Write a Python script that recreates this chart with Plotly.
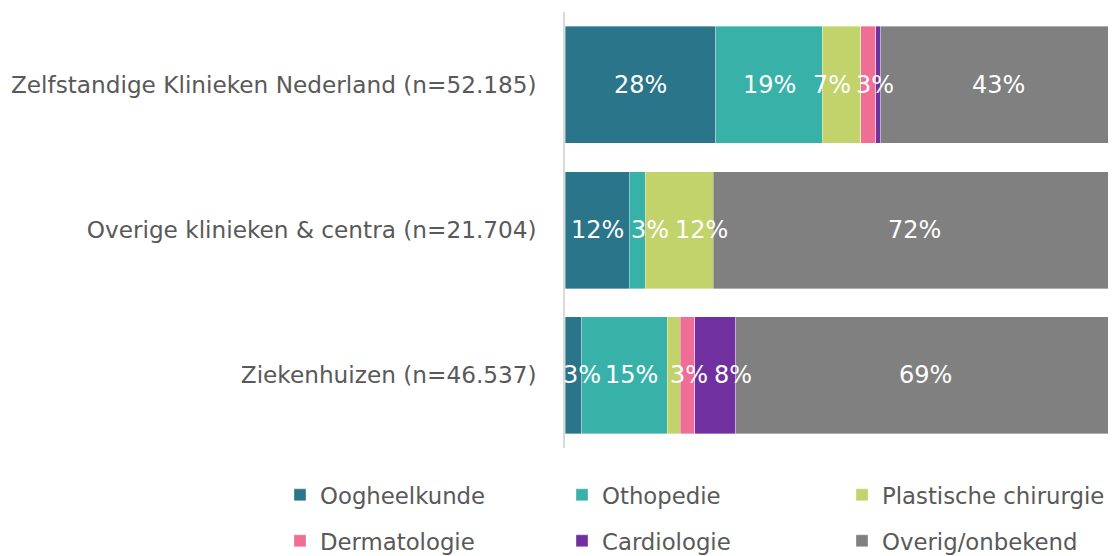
import plotly.graph_objects as go

categories = [
    "Zelfstandige Klinieken Nederland (n=52.185)",
    "Overige klinieken & centra (n=21.704)",
    "Ziekenhuizen (n=46.537)",
]
series_names = ["Oogheelkunde", "Othopedie", "Plastische chirurgie",
                "Dermatologie", "Cardiologie", "Overig/onbekend"]
series_colors = ["#2A7589", "#38B2A8", "#C3D36B", "#EE6E96", "#7030A0", "#808080"]

# values per series, in category order (percent)
oogheelkunde = [27.4, 11.7, 3.0]
othopedie = [19.3, 2.9, 15.6]
plastische = [7.0, 12.3, 2.3]
dermatologie = [2.7, 0.0, 2.65]
cardiologie = [0.9, 0.0, 7.4]
overig = [42.7, 73.1, 69.05]
series_values = [oogheelkunde, othopedie, plastische, dermatologie, cardiologie, overig]

# data labels as printed on the chart ("" = no label)
labels_oog = ["28%", "12%", "3%"]
labels_otho = ["19%", "3%", "15%"]
labels_plast = ["7%", "12%", ""]
labels_derm = ["3%", "", "3%"]
labels_card = ["", "", "8%"]
labels_overig = ["43%", "72%", "69%"]
series_labels = [labels_oog, labels_otho, labels_plast, labels_derm, labels_card, labels_overig]

# small horizontal nudges (px) the original applied to avoid label overlap
label_nudge = [
    [0, 0, 9],
    [0, 13, 7],
    [-10, 22, 0],
    [7, 0, 2],
    [0, 0, 18],
    [0, 0, 0],
]

FONT = "DejaVu Sans"
FS_CAT = 23.2
FS_LBL = 24
FS_LEG = 22.8

# page body has an 8px margin: figure is drawn at (8, 8) of the window,
# and the window shows it up to x=1108
W, H = 1100, 548
OFF = 8
PLOT_L, PLOT_T, PLOT_B = 565, 12, 448       # window px
FULL_R = 1116                                # where 100% sits in the window
VIS_R = OFF + W                              # visible right edge
x_max = 100 * (VIS_R - PLOT_L) / (FULL_R - PLOT_L)

# legend grid: 3 columns x 2 rows (window px)
legend_cols_px = [280, 562, 842]
legend_rows_px = [495, 541]

fig = go.Figure()
legend_layouts = {}
for j, (name, vals, col) in enumerate(zip(series_names, series_values, series_colors)):
    lname = "legend" if j == 0 else f"legend{j + 1}"
    fig.add_trace(go.Bar(
        y=categories, x=vals, name=name, orientation="h",
        marker=dict(color=col, line=dict(color="rgba(255,255,255,0.6)", width=0.6)),
        legend=lname,
        hoverinfo="skip",
    ))
    legend_layouts[lname] = dict(
        xref="container", yref="container",
        x=(legend_cols_px[j % 3] - OFF) / W, xanchor="left",
        y=1 - (legend_rows_px[j // 3] - OFF) / H, yanchor="middle",
        font=dict(family=FONT, size=FS_LEG, color="#595959"),
        bgcolor="rgba(0,0,0,0)", borderwidth=0,
    )

annotations = []
for i, cat in enumerate(categories):
    cum = 0.0
    for j in range(len(series_names)):
        v = series_values[j][i]
        lab = series_labels[j][i]
        if lab:
            annotations.append(dict(
                x=cum + v / 2, y=cat, xref="x", yref="y", text=lab,
                showarrow=False, xshift=label_nudge[j][i],
                font=dict(family=FONT, size=FS_LBL, color="white"),
            ))
        cum += v

fig.update_layout(
    barmode="stack",
    bargap=0.195,
    width=W, height=H,
    margin=dict(l=PLOT_L - OFF, r=0, t=PLOT_T - OFF, b=H - (PLOT_B - OFF), autoexpand=False),
    paper_bgcolor="white", plot_bgcolor="white",
    font=dict(family=FONT, color="#595959"),
    xaxis=dict(range=[0, x_max], visible=False, fixedrange=True),
    yaxis=dict(
        autorange="reversed", showline=True, linecolor="#D9D9D9", linewidth=1.5,
        ticks="", showgrid=False, zeroline=False,
        tickfont=dict(family=FONT, size=FS_CAT, color="#595959"),
        ticklabelstandoff=22,
    ),
    annotations=annotations,
    showlegend=True,
    **legend_layouts,
)

fig.write_html("out.html")
